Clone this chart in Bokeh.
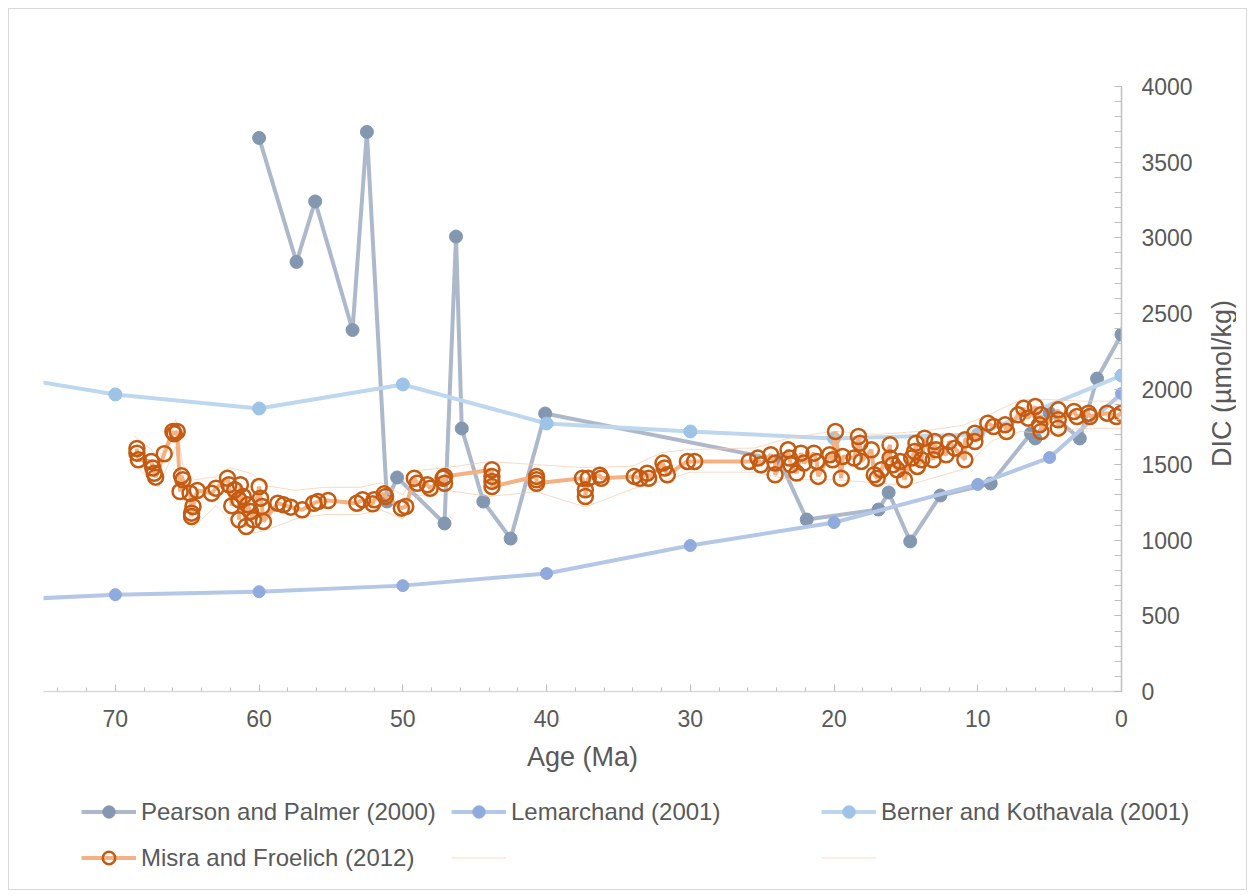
import math
from bokeh.plotting import figure
from bokeh.layouts import column, row
from bokeh.models import Range1d, FixedTicker, Legend, LegendItem, Label
from bokeh.embed import file_html
from bokeh.resources import INLINE

# ---------------- data ----------------
pearson_age = [60.0, 57.4, 56.1, 53.5, 52.5, 51.1, 50.4, 47.1, 46.3, 45.9, 44.4, 42.5, 40.1,
               23.8, 21.9, 16.9, 16.2, 14.7, 12.6, 9.1, 6.3, 6.0, 5.0, 2.9, 1.7, 0.0]
pearson_dic = [3660, 2840, 3240, 2390, 3700, 1256, 1415, 1111, 3008, 1739, 1256, 1011, 1838,
               1530, 1137, 1203, 1316, 992, 1296, 1375, 1706, 1673, 1840, 1673, 2069, 2360]

lemarchand_age = [80, 70, 60, 50, 40, 30, 20, 10, 5, 0]
lemarchand_dic = [595, 640, 660, 700, 780, 965, 1117, 1369, 1547, 1970]

berner_age = [80, 70, 60, 50, 40, 30, 20, 10, 0]
berner_dic = [2120, 1964, 1871, 2030, 1772, 1719, 1673, 1700, 2089]

misra_age = [68.5, 68.5, 68.4, 67.5, 67.4, 67.3, 67.2, 66.6, 66.0, 65.9, 65.7, 65.5, 65.4, 65.3,
             64.8, 64.7, 64.7, 64.6, 64.3, 63.3, 63.0, 62.2, 62.1, 61.9, 61.7, 61.4, 61.4, 61.3,
             61.1, 60.9, 60.8, 60.6, 60.4, 60.0, 59.9, 59.8, 59.7, 58.7, 58.3, 57.8, 57.0, 56.2,
             55.9, 55.2, 53.2, 52.8, 52.1, 52.0, 51.3, 51.2, 50.1, 49.8, 49.2, 49.0, 48.3, 48.1,
             47.2, 47.1, 47.1, 43.8, 43.8, 43.8, 43.8, 40.7, 40.7, 40.7, 37.5, 37.3, 37.3, 37.1,
             36.3, 36.2, 33.9, 33.5, 33.0, 32.9, 31.9, 31.8, 31.6, 30.2, 29.7, 25.9, 25.3, 25.1,
             24.4, 24.1, 24.1, 23.2, 23.1, 23.0, 22.6, 22.3, 22.1, 21.4, 21.2, 21.1, 20.3, 20.1,
             19.9, 19.5, 19.4, 18.6, 18.3, 18.2, 18.1, 17.4, 17.2, 17.0, 16.7, 16.1, 16.1, 15.9,
             15.6, 15.4, 15.1, 14.6, 14.4, 14.3, 14.2, 13.9, 13.7, 13.1, 13.0, 12.9, 12.2, 12.0,
             11.6, 10.9, 10.9, 10.2, 10.2, 9.3, 8.9, 8.1, 8.0, 7.2, 6.8, 6.5, 6.0, 5.7, 5.6, 5.6,
             4.4, 4.4, 4.4, 3.3, 3.1, 2.3, 2.2, 1.0, 0.35, 0.0]
misra_dic = [1607, 1576, 1532, 1521, 1477, 1443, 1417, 1572, 1719, 1704, 1719, 1322, 1426, 1400,
             1311, 1179, 1157, 1223, 1329, 1311, 1344, 1410, 1367, 1228, 1334, 1268, 1135, 1367,
             1289, 1091, 1234, 1190, 1135, 1355, 1278, 1223, 1124, 1245, 1234, 1219, 1201, 1245,
             1256, 1263, 1245, 1268, 1241, 1268, 1307, 1289, 1212, 1223, 1410, 1377, 1367, 1344,
             1410, 1377, 1422, 1466, 1422, 1389, 1355, 1422, 1400, 1377, 1410, 1334, 1289, 1410,
             1430, 1410, 1422, 1410, 1443, 1410, 1510, 1477, 1433, 1521, 1521, 1521, 1543, 1499,
             1565, 1510, 1433, 1598, 1543, 1499, 1444, 1576, 1510, 1576, 1521, 1422, 1565, 1532,
             1719, 1410, 1554, 1543, 1686, 1642, 1521, 1598, 1433, 1410, 1466, 1631, 1543, 1499,
             1466, 1521, 1400, 1543, 1587, 1642, 1488, 1532, 1675, 1532, 1653, 1598, 1565, 1653,
             1609, 1532, 1664, 1708, 1653, 1774, 1752, 1763, 1719, 1829, 1873, 1807, 1884, 1763,
             1829, 1719, 1862, 1741, 1796, 1851, 1818, 1840, 1818, 1840, 1818, 1840]

misra_upper_age = [68.7, 67.5, 67.0, 66.2, 65.8, 65.3, 64.5, 63.0, 62.0, 60.5, 59.5, 57.5, 55.5,
                   53.0, 51.5, 50.0, 49.0, 47.0, 44.0, 40.7, 37.5, 34.0, 32.0, 30.0, 25.5, 23.0,
                   20.0, 17.0, 14.0, 11.0, 9.0, 7.0, 5.0, 3.0, 0.0]
misra_upper_dic = [1690, 1600, 1530, 1700, 1800, 1500, 1400, 1420, 1480, 1440, 1360, 1330, 1350,
                   1350, 1380, 1300, 1460, 1480, 1520, 1500, 1480, 1490, 1580, 1600, 1610, 1680,
                   1720, 1700, 1720, 1760, 1840, 1930, 1930, 1920, 1920]
misra_lower_age = [68.7, 67.0, 65.8, 65.3, 64.6, 63.0, 61.0, 59.7, 57.5, 55.5, 53.0, 51.5, 50.0,
                   49.0, 47.0, 44.0, 40.7, 37.3, 34.0, 32.0, 30.0, 25.5, 23.0, 20.0, 17.0, 15.0,
                   11.0, 9.0, 7.0, 5.0, 3.0, 0.0]
misra_lower_dic = [1500, 1350, 1620, 1300, 1080, 1230, 1040, 1060, 1140, 1170, 1170, 1200, 1140,
                   1290, 1330, 1290, 1320, 1220, 1340, 1390, 1450, 1450, 1400, 1400, 1380, 1360,
                   1470, 1660, 1720, 1700, 1740, 1740]

series_names = ["Pearson and Palmer (2000)", "Lemarchand (2001)",
                "Berner and Kothavala (2001)", "Misra and Froelich (2012)"]

x_major = [0, 10, 20, 30, 40, 50, 60, 70]
y_major = [0, 500, 1000, 1500, 2000, 2500, 3000, 3500, 4000]

FONT = "Liberation Sans"
TXT = "#595959"

PP = dict(line="#adb9ca", mark="#8497b0")
LM = dict(line="#b4c7e7", mark="#8faadc")
BK = dict(line="#bdd7ee", mark="#9dc3e6")
MF = dict(line="#f4b183", mark="#c55a11")
BAND = "#f8cbad"

# ---------------- main chart ----------------
p = figure(width=1197, height=770, x_range=Range1d(75, 0), y_range=Range1d(0, 4000),
           output_backend="svg", toolbar_location=None, y_axis_location="right",
           min_border_left=34, min_border_top=77, min_border_right=85, min_border_bottom=88)
p.outline_line_color = None
p.xgrid.visible = False
p.ygrid.visible = False
p.background_fill_color = "white"
p.border_fill_color = "white"

xa = p.xaxis[0]
xa.ticker = FixedTicker(ticks=x_major, minor_ticks=list(range(0, 76, 2)))
xa.axis_line_color = "#d9d9d9"
xa.axis_line_width = 1.5
xa.major_tick_line_color = "#bfbfbf"
xa.minor_tick_line_color = "#bfbfbf"
xa.major_tick_in = 7
xa.major_tick_out = 0
xa.minor_tick_in = 4
xa.minor_tick_out = 0
xa.major_label_text_font = FONT
xa.major_label_text_font_size = "23px"
xa.major_label_text_color = TXT
xa.major_label_standoff = 18
xa.axis_label = "Age (Ma)"
xa.axis_label_text_font = FONT
xa.axis_label_text_font_size = "27px"
xa.axis_label_text_font_style = "normal"
xa.axis_label_text_color = TXT
xa.axis_label_standoff = 12

ya = p.yaxis[0]
ya.ticker = FixedTicker(ticks=y_major, minor_ticks=list(range(0, 4001, 100)))
ya.axis_line_color = "#bfbfbf"
ya.axis_line_width = 1.5
ya.major_tick_line_color = "#bfbfbf"
ya.minor_tick_line_color = "#bfbfbf"
ya.major_tick_in = 7
ya.major_tick_out = 0
ya.minor_tick_in = 7
ya.minor_tick_out = 0
ya.major_label_text_font = FONT
ya.major_label_text_font_size = "23px"
ya.major_label_text_color = TXT
ya.major_label_standoff = 20

p.line(pearson_age, pearson_dic, line_color=PP["line"], line_width=4)
p.scatter(pearson_age, pearson_dic, size=13, fill_color=PP["mark"], line_color=PP["mark"])

p.line(lemarchand_age, lemarchand_dic, line_color=LM["line"], line_width=4)
p.scatter(lemarchand_age, lemarchand_dic, size=12, fill_color=LM["mark"], line_color=LM["mark"])

p.line(berner_age, berner_dic, line_color=BK["line"], line_width=4)
p.scatter(berner_age, berner_dic, size=13, fill_color=BK["mark"], line_color=BK["mark"])

p.line(misra_upper_age, misra_upper_dic, line_color=BAND, line_width=1, line_alpha=0.7)
p.line(misra_lower_age, misra_lower_dic, line_color=BAND, line_width=1, line_alpha=0.7)

p.line(misra_age, misra_dic, line_color=MF["line"], line_width=4)
p.scatter(misra_age, misra_dic, size=15, fill_color=None, line_color=MF["mark"], line_width=2.5)

# ---------------- y-axis title strip ----------------
t = figure(width=30, height=770, x_range=Range1d(0, 1), y_range=Range1d(0, 1),
           output_backend="svg", toolbar_location=None,
           x_axis_location=None, y_axis_location=None,
           min_border_left=0, min_border_right=0, min_border_top=0, min_border_bottom=0)
t.xgrid.visible = False
t.ygrid.visible = False
t.outline_line_color = None
t.background_fill_color = "white"
t.border_fill_color = "white"
t.add_layout(Label(x=15, y=308, x_units="screen", y_units="screen", text="DIC (µmol/kg)",
                   angle=90, angle_units="deg", text_align="center", text_baseline="middle",
                   text_font=FONT, text_font_size="27px", text_color=TXT))

# ---------------- legend strip ----------------
q = figure(width=1237, height=110, x_range=Range1d(-20, -19), y_range=Range1d(-20, -19),
           output_backend="svg", toolbar_location=None,
           x_axis_location=None, y_axis_location=None,
           min_border_left=0, min_border_right=0, min_border_top=0, min_border_bottom=0)
q.xgrid.visible = False
q.ygrid.visible = False
q.outline_line_color = None
q.background_fill_color = "white"
q.border_fill_color = "white"

# legend keys reuse the series data; the strip's ranges keep the marks out of view
k_pl = q.line(pearson_age, pearson_dic, line_color=PP["line"], line_width=4)
k_ps = q.scatter(pearson_age, pearson_dic, size=13, fill_color=PP["mark"], line_color=PP["mark"])
k_ll = q.line(lemarchand_age, lemarchand_dic, line_color=LM["line"], line_width=4)
k_ls = q.scatter(lemarchand_age, lemarchand_dic, size=13, fill_color=LM["mark"], line_color=LM["mark"])
k_bl = q.line(berner_age, berner_dic, line_color=BK["line"], line_width=4)
k_bs = q.scatter(berner_age, berner_dic, size=13, fill_color=BK["mark"], line_color=BK["mark"])
k_ml = q.line(misra_age, misra_dic, line_color=MF["line"], line_width=4)
k_ms = q.scatter(misra_age, misra_dic, size=13, fill_color=None, line_color=MF["mark"], line_width=2.5)
k_ub = q.line(misra_upper_age, misra_upper_dic, line_color=BAND, line_width=1, line_alpha=0.7)
k_lb = q.line(misra_lower_age, misra_lower_dic, line_color=BAND, line_width=1, line_alpha=0.7)

legend = Legend(items=[
    LegendItem(label=series_names[0], renderers=[k_pl, k_ps]),
    LegendItem(label=series_names[1], renderers=[k_ll, k_ls]),
    LegendItem(label=series_names[2], renderers=[k_bl, k_bs]),
    LegendItem(label=series_names[3], renderers=[k_ml, k_ms]),
    LegendItem(label=" ", renderers=[k_ub]),
    LegendItem(label=" ", renderers=[k_lb]),
], orientation="horizontal", ncols=3, location=(72, 11))
legend.label_text_font = FONT
legend.label_text_font_size = "24px"
legend.label_text_color = TXT
legend.glyph_width = 55
legend.glyph_height = 31
legend.label_height = 41
legend.label_width = 305
legend.label_standoff = 5
legend.spacing = 5
legend.padding = 0
legend.margin = 0
legend.border_line_color = None
legend.background_fill_alpha = 0
q.add_layout(legend, "center")

layout = column(row(p, t, spacing=0), q, spacing=0,
                styles={"margin-left": "8px", "margin-top": "8px", "border": "1px solid #d9d9d9",
                        "background-color": "white"})

open("out.html", "w").write(file_html(layout, INLINE))
